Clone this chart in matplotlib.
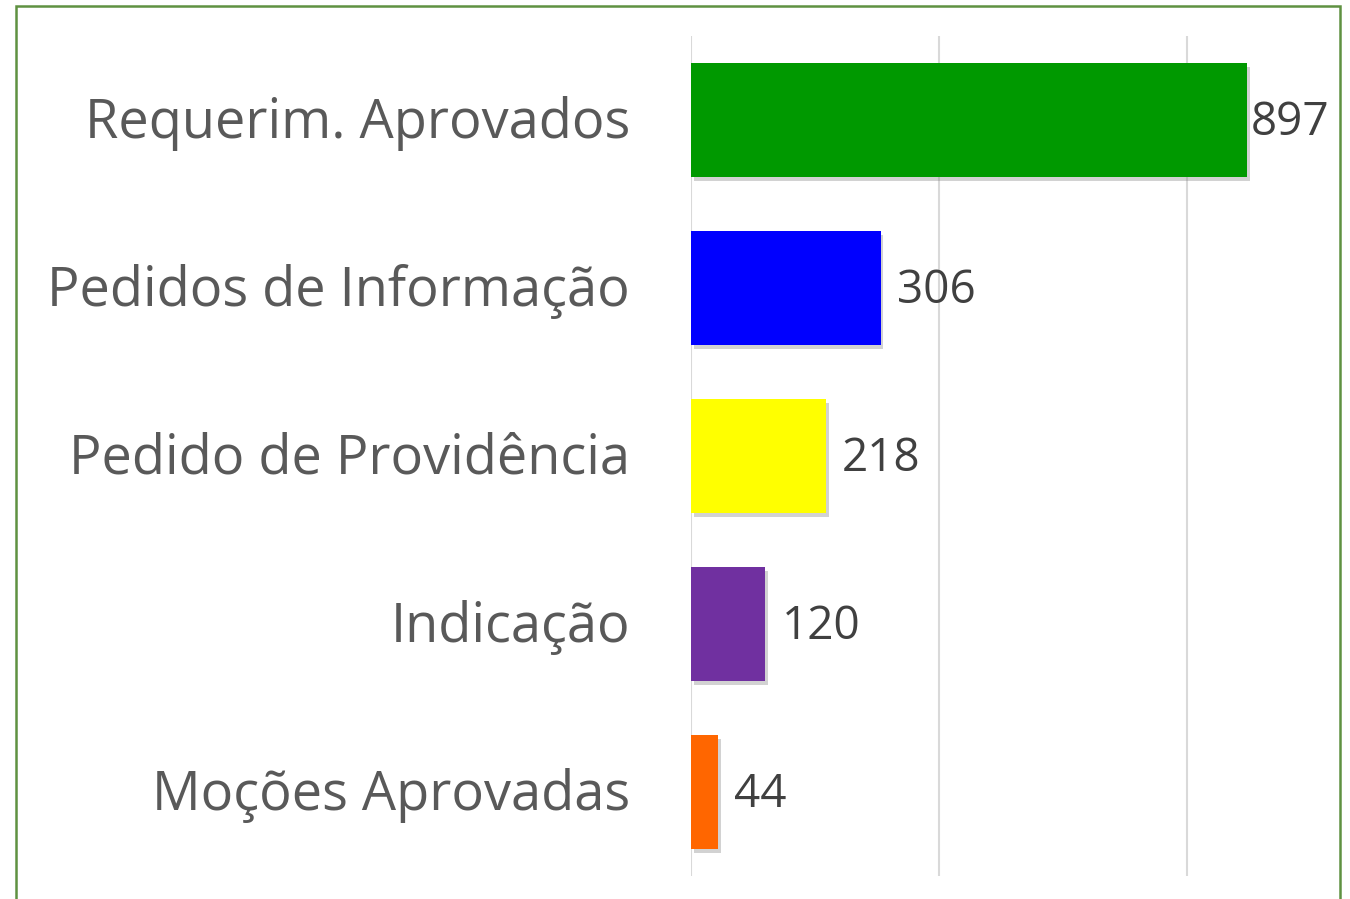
import matplotlib
matplotlib.use("Agg")
import matplotlib.pyplot as plt
from matplotlib.patches import Rectangle
from matplotlib.transforms import ScaledTranslation
import matplotlib.patheffects as pe

categories = ["Requerim. Aprovados", "Pedidos de Informação", "Pedido de Providência",
              "Indicação", "Moções Aprovadas"]
values = [897, 306, 218, 120, 44]
colors = ["#009900", "#0000FF", "#FFFF00", "#7030A0", "#FF6600"]

W, H = 1350, 899
fig = plt.figure(figsize=(W / 100, H / 100), dpi=100)
fig.patch.set_facecolor("white")

ax = fig.add_axes([691 / W, (H - 876) / H, 620 / W, 840 / H])
ypos = list(range(len(categories)))
bars = ax.barh(ypos, values, height=0.68, color=colors, zorder=3)
for b in bars:
    b.set_path_effects([pe.SimplePatchShadow(offset=(2, -3), shadow_rgbFace="#808080", alpha=0.35),
                        pe.Normal()])

ax.set_xlim(0, 1000)
ax.set_ylim(len(categories) - 0.5, -0.5)
ax.set_xticks([0, 400, 800])
ax.xaxis.grid(True, color="#d9d9d9", linewidth=1.5, zorder=0)
ax.tick_params(axis="x", length=0, labelbottom=False)
ax.tick_params(axis="y", length=0, pad=44)
ax.set_yticks(ypos)
ax.set_yticklabels(categories, fontsize=39, color="#595959", fontfamily="Open Sans")
shift = ScaledTranslation(0, 3 / 100, fig.dpi_scale_trans)
for lbl in ax.get_yticklabels():
    lbl.set_transform(lbl.get_transform() + shift)
for s in ax.spines.values():
    s.set_visible(False)

offsets = [4, 16, 16, 16, 16]
for y, v, off in zip(ypos, values, offsets):
    ax.annotate(str(v), xy=(v, y), xytext=(off * 0.72, -2), textcoords="offset points",
                va="center", ha="left", fontsize=33, color="#404040", fontfamily="Open Sans")

fig.patches.append(Rectangle((16 / W, -0.05), (1340 - 16) / W, 1.05 - 6 / H,
                             transform=fig.transFigure, fill=False,
                             edgecolor="#5f9141", linewidth=1.8, zorder=10))

fig.savefig("out.png", dpi=100, facecolor="white")
